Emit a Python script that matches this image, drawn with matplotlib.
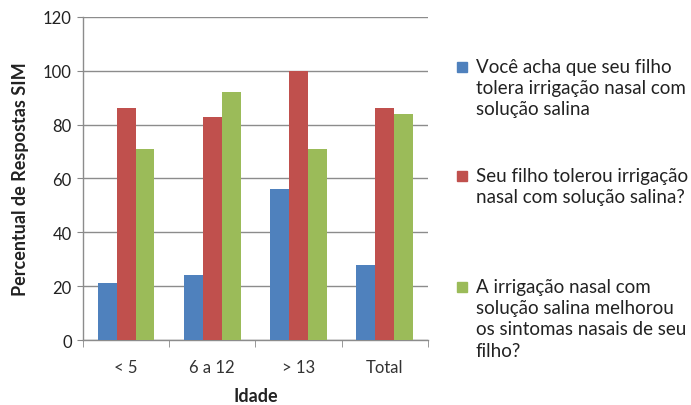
import matplotlib
matplotlib.use("Agg")
import matplotlib.pyplot as plt
import numpy as np
from matplotlib.patches import Rectangle

# Idade groups and percent of "SIM" answers per question
categories = ["< 5", "6 a 12", "> 13", "Total"]
tolera = [21, 24, 56, 28]
tolerou = [86, 83, 100, 86]
melhorou = [71, 92, 71, 84]

series_labels = [
    "Você acha que seu filho\ntolera irrigação nasal com\nsolução salina",
    "Seu filho tolerou irrigação\nnasal com solução salina?",
    "A irrigação nasal com\nsolução salina melhorou\nos sintomas nasais de seu\nfilho?",
]
colors = ["#4F81BD", "#C0504D", "#9BBB59"]

plt.rcParams["font.family"] = ["Lato", "DejaVu Sans"]

fig = plt.figure(figsize=(6.91, 4.06), dpi=100)
ax = fig.add_axes([0.120, 0.160, 0.499, 0.796])

x = np.arange(len(categories))
w = 0.22
for i, vals in enumerate([tolera, tolerou, melhorou]):
    ax.bar(x + (i - 1) * w, vals, width=w, color=colors[i], zorder=3)

ax.set_ylim(0, 120)
ax.set_yticks(range(0, 121, 20))
ax.set_xlim(-0.5, len(categories) - 0.5)
ax.set_xticks(x)
ax.set_xticklabels(categories)
ax.set_xticks(np.arange(-0.5, len(categories)), minor=True)
ax.tick_params(axis="x", which="major", length=0, pad=14, labelsize=12, colors="#333333")
ax.tick_params(axis="x", which="minor", length=5, color="#888888", direction="out")
ax.tick_params(axis="y", length=4, color="#888888", labelsize=12, pad=4, labelcolor="#222222")

ax.yaxis.grid(True, color="#8c8c8c", linewidth=1, zorder=0)
for s in ["top", "right"]:
    ax.spines[s].set_visible(False)
for s in ["left", "bottom"]:
    ax.spines[s].set_color("#8c8c8c")
    ax.spines[s].set_linewidth(1)

ax.set_xlabel("Idade", fontweight="bold", fontsize=13, labelpad=8, color="#222222")
ax.set_ylabel("Percentual de Respostas SIM", fontweight="bold", fontsize=13, labelpad=10,
              color="#222222")

# legend drawn by hand so the square sits next to the first line
fig_w, fig_h = 691, 406
entry_y = [68, 177, 288]
for lab, col, yp in zip(series_labels, colors, entry_y):
    fig.add_artist(Rectangle(((462 - 5) / fig_w, 1 - (yp + 5) / fig_h), 10 / fig_w, 10 / fig_h,
                             transform=fig.transFigure, color=col))
    fig.text(476 / fig_w, 1 - (yp - 9) / fig_h, lab, fontsize=13.5, va="top", ha="left",
             color="#222222", linespacing=1.3)

fig.savefig("out.png", dpi=100)
